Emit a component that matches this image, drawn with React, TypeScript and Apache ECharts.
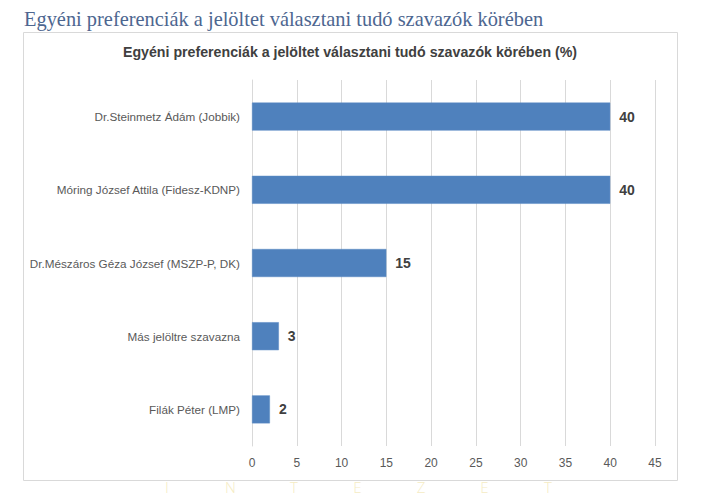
import React, { useEffect, useRef } from "react";
import * as echarts from "echarts";

const categories = [
  "Dr.Steinmetz Ádám (Jobbik)",
  "Móring József Attila (Fidesz-KDNP)",
  "Dr.Mészáros Géza József (MSZP-P, DK)",
  "Más jelöltre szavazna",
  "Filák Péter (LMP)",
];
const values = [40, 40, 15, 3, 2];
const outerTitle = "Egyéni preferenciák a jelöltet választani tudó szavazók körében";
const chartTitle = "Egyéni preferenciák a jelöltet választani tudó szavazók körében (%)";
const watermarkLetters = ["I", "N", "T", "E", "Z", "E", "T"];

export default function App() {
  const ref = useRef<HTMLDivElement>(null);
  useEffect(() => {
    if (!ref.current) return;
    const chart = echarts.init(ref.current, null, { renderer: "svg" });
    const wm = watermarkLetters.map((ch, i) => ({
      type: "text",
      z: -30,
      x: 167 + i * 63.5,
      y: 494,
      style: {
        text: ch,
        fill: "#f5ecc4",
        font: "300 15px 'Open Sans', sans-serif",
        align: "center",
        verticalAlign: "bottom",
      },
    }));
    chart.setOption({
      animation: false,
      backgroundColor: "#ffffff",
      graphic: [
        ...wm,
        {
          type: "rect",
          z: -20,
          shape: { x: 23.5, y: 32.5, width: 654, height: 448 },
          style: { fill: "#ffffff", stroke: "#d9d9d9", lineWidth: 1 },
        },
        {
          type: "text",
          x: 24,
          y: 19,
          style: {
            text: outerTitle,
            fill: "#4d6690",
            font: "20.4px 'Liberation Serif', serif",
            verticalAlign: "middle",
          },
        },
        {
          type: "text",
          x: 350,
          y: 52,
          style: {
            text: chartTitle,
            fill: "#404040",
            font: "bold 14.2px 'Liberation Sans', sans-serif",
            align: "center",
            verticalAlign: "middle",
          },
        },
      ],
      grid: { left: 252, right: 70, top: 80, bottom: 50, containLabel: false },
      xAxis: {
        type: "value",
        min: 0,
        max: 45,
        interval: 5,
        axisLine: { show: false },
        axisTick: { show: false },
        splitLine: { lineStyle: { color: "#d9d9d9", width: 1 } },
        axisLabel: {
          color: "#595959",
          fontSize: 12,
          fontFamily: "'Liberation Sans', sans-serif",
          margin: 11,
        },
      },
      yAxis: {
        type: "category",
        data: categories,
        inverse: true,
        axisLine: { show: true, lineStyle: { color: "#d9d9d9" } },
        axisTick: { show: false },
        axisLabel: {
          color: "#595959",
          fontSize: 11.7,
          fontFamily: "'Liberation Sans', sans-serif",
          margin: 12,
        },
      },
      series: [
        {
          type: "bar",
          data: values,
          barWidth: 28,
          itemStyle: { color: "#4f81bd", borderColor: "#5b8ac4", borderWidth: 0.5 },
          label: {
            show: true,
            position: "right",
            distance: 9,
            color: "#404040",
            fontSize: 14,
            fontWeight: "bold",
            fontFamily: "'Liberation Sans', sans-serif",
          },
        },
      ],
    });
    return () => chart.dispose();
  }, []);
  return (
    <div
      ref={ref}
      style={{ position: "fixed", left: 0, top: 0, width: 725, height: 496 }}
    />
  );
}
